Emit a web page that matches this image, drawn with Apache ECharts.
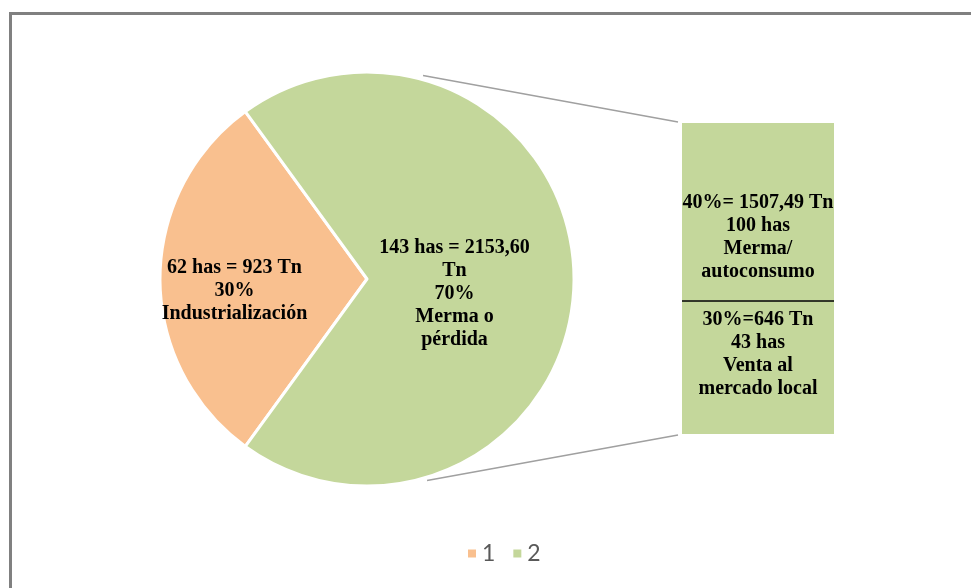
<!DOCTYPE html>
<html>
<head>
<meta charset="utf-8">
<script src="https://cdn.jsdelivr.net/npm/echarts@6/dist/echarts.min.js"></script>
<style>
  html, body { margin: 0; padding: 0; background: #fff; }
  #chart { width: 971px; height: 588px; }
</style>
</head>
<body>
<div id="chart"></div>
<script>
// pie slices (legend names 1, 2)
const pieNames = ['1', '2'];
const pieValues = [30, 70];
const pieLabels = [
  '62 has = 923 Tn\n30%\nIndustrialización',
  '143 has = 2153,60\nTn\n70%\nMerma o\npérdida'
];

// bar of pie: split of slice 2 (bottom first, then top)
const barNames = ['Venta al mercado local', 'Merma/autoconsumo'];
const barValues = [30, 40];
const barLabels = [
  '30%=646 Tn\n43 has\nVenta al\nmercado local',
  '40%= 1507,49 Tn\n100 has\nMerma/\nautoconsumo'
];

const orange = '#F9C08F';
const green = '#C4D79B';

const pieCenter = [367, 279];
const pieRadius = 207;
const grid = { left: 682, top: 123, width: 152, height: 311 };

const labelFont = {
  fontFamily: '"Liberation Serif", "Times New Roman", serif',
  fontWeight: 'bold',
  fontSize: 20,
  lineHeight: 23,
  color: '#000'
};

const chart = echarts.init(document.getElementById('chart'));

// connector lines from pie edge to bar corners
const ang = 74.6 * Math.PI / 180;
const sx = pieCenter[0] + (pieRadius + 4) * Math.cos(ang);
const syTop = pieCenter[1] - (pieRadius + 4) * Math.sin(ang);
const syBot = pieCenter[1] + (pieRadius + 2) * Math.sin(ang);

const option = {
  animation: false,
  color: [orange, green],
  legend: {
    data: pieNames,
    bottom: 18,
    left: 461,
    icon: 'rect',
    itemWidth: 10,
    itemHeight: 10,
    itemGap: 16,
    textStyle: { fontFamily: 'Lato, "Open Sans", sans-serif', fontSize: 23, color: '#595959' }
  },
  graphic: [
    {
      type: 'rect', z: -10, silent: true,
      shape: { x: 10.5, y: 13.5, width: 1000, height: 620 },
      style: { fill: 'none', stroke: '#808080', lineWidth: 3 }
    },
    {
      type: 'line', silent: true,
      shape: { x1: sx, y1: syTop, x2: grid.left - 4, y2: grid.top - 1 },
      style: { stroke: '#A0A0A0', lineWidth: 1.5 }
    },
    {
      type: 'line', silent: true,
      shape: { x1: sx + 4, y1: syBot, x2: grid.left - 4, y2: grid.top + grid.height + 1 },
      style: { stroke: '#A0A0A0', lineWidth: 1.5 }
    }
  ],
  grid: grid,
  xAxis: { type: 'category', data: ['x'], show: false },
  yAxis: { type: 'value', min: 0, max: 70, show: false },
  series: [
    {
      type: 'pie',
      center: pieCenter,
      radius: pieRadius,
      startAngle: 234,
      clockwise: true,
      itemStyle: { borderColor: '#fff', borderWidth: 3 },
      label: Object.assign({
        position: 'inside',
        formatter: (p) => pieLabels[p.dataIndex]
      }, labelFont),
      labelLine: { show: false },
      labelLayout: (p) => p.dataIndex === 0 ? { dx: -26, dy: 12 } : { dx: -19, dy: 15 },
      data: pieNames.map((n, i) => ({ name: n, value: pieValues[i] }))
    },
    {
      type: 'bar',
      name: barNames[0],
      stack: 'b',
      barWidth: '100%',
      data: [barValues[0]],
      itemStyle: { color: green },
      label: Object.assign({
        show: true,
        position: 'insideTop',
        distance: 8,
        formatter: () => barLabels[0]
      }, labelFont),
      markLine: {
        silent: true,
        symbol: 'none',
        label: { show: false },
        lineStyle: { color: '#000', width: 1.5, type: 'solid' },
        data: [{ yAxis: barValues[0] }]
      }
    },
    {
      type: 'bar',
      name: barNames[1],
      stack: 'b',
      barWidth: '100%',
      data: [barValues[1]],
      itemStyle: { color: green },
      label: Object.assign({
        show: true,
        position: 'insideBottom',
        distance: 17,
        formatter: () => barLabels[1]
      }, labelFont)
    }
  ]
};

chart.setOption(option);
</script>
</body>
</html>
